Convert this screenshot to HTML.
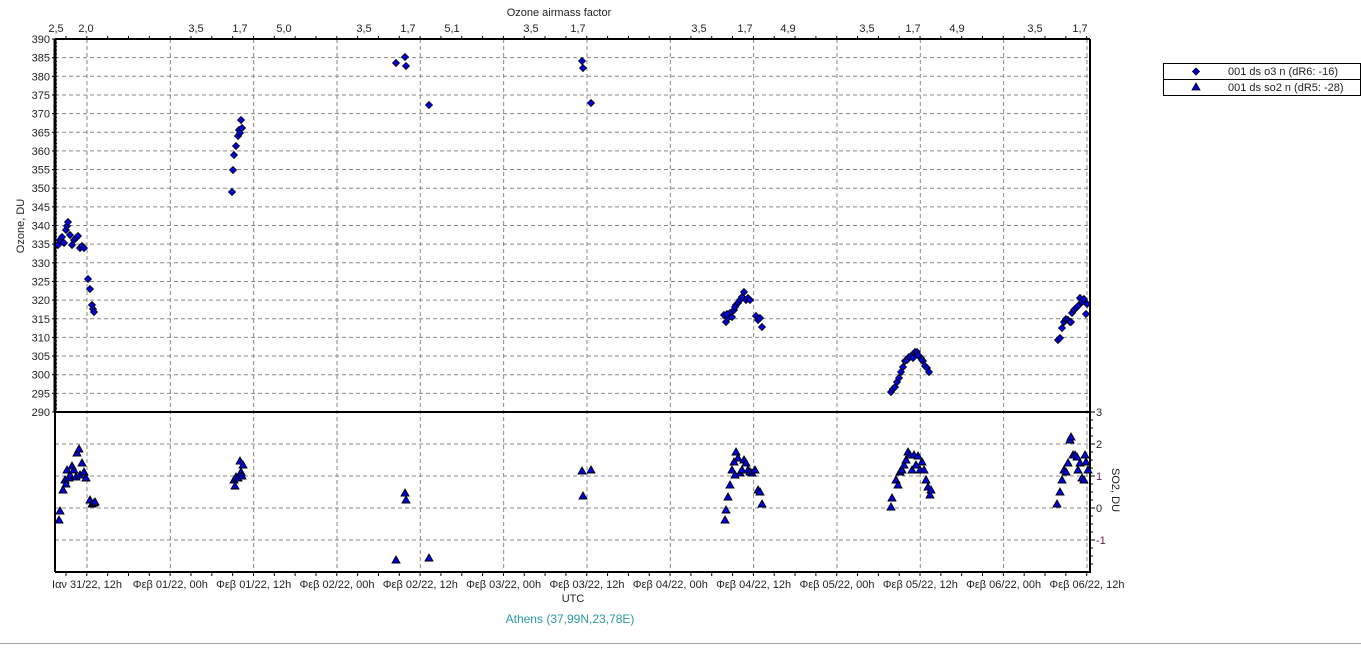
<!DOCTYPE html>
<html><head><meta charset="utf-8"><style>
body{margin:0;background:#fff;width:1361px;height:645px;overflow:hidden;font-family:"Liberation Sans",sans-serif}
svg text{font-family:"Liberation Sans",sans-serif;font-size:11px;fill:#222}
</style></head><body>
<svg id="s" width="1361" height="645" xmlns="http://www.w3.org/2000/svg">
<rect width="1361" height="645" fill="#fff"/>
<line x1="0" y1="643.5" x2="1361" y2="643.5" stroke="#a0a0a0"/>
<g id="grid" stroke="#888" stroke-dasharray="4,3" stroke-width="1"></g>
<g id="axes"></g>
<g id="pts"></g>
<text x="559" y="16" text-anchor="middle">Ozone airmass factor</text>
<text x="573" y="602" text-anchor="middle">UTC</text>
<text x="570" y="623" text-anchor="middle" style="fill:#2a9aa0;font-size:12px">Athens (37,99N,23,78E)</text>
<text transform="translate(24,226) rotate(-90)" text-anchor="middle">Ozone, DU</text>
<text transform="translate(1112,490) rotate(90)" text-anchor="middle">SO2, DU</text>
<rect x="1163.5" y="63.5" width="197" height="32" fill="#fff" stroke="#000"/>
<line x1="1163" y1="79.5" x2="1361" y2="79.5" stroke="#000"/>
<polygon points="1196,68 1199.5,71.5 1196,75 1192.5,71.5" fill="#0000e0" stroke="#000" stroke-width="0.8"/>
<polygon points="1196,83 1200,90 1192,90" fill="#0000e0" stroke="#000" stroke-width="0.8"/>
<text x="1228" y="75">001 ds o3  n (dR6: -16)</text>
<text x="1228" y="91">001 ds so2 n (dR5: -28)</text>
</svg>
<script>
(function(){
const NS="http://www.w3.org/2000/svg",G=id=>document.getElementById(id);
function el(p,t,a,txt){const e=document.createElementNS(NS,t);for(const k in a)e.setAttribute(k,a[k]);if(txt!==undefined)e.textContent=txt;G(p).appendChild(e);return e;}
const L=55,R=1090,T=39,M=412,B=572;
const labs=['Ιαν 31/22, 12h','Φεβ 01/22, 00h','Φεβ 01/22, 12h','Φεβ 02/22, 00h','Φεβ 02/22, 12h','Φεβ 03/22, 00h','Φεβ 03/22, 12h','Φεβ 04/22, 00h','Φεβ 04/22, 12h','Φεβ 05/22, 00h','Φεβ 05/22, 12h','Φεβ 06/22, 00h','Φεβ 06/22, 12h'];
for(let i=0;i<13;i++){const x=87+i*83.33;el('grid','line',{x1:x,y1:T,x2:x,y2:B});
 el('axes','text',{x:x,y:588,'text-anchor':'middle'},labs[i]);}
for(let x=66;x<R;x+=20.83){el('axes','line',{x1:x,y1:B,x2:x,y2:B+4,stroke:'#000'});el('axes','line',{x1:x,y1:T,x2:x,y2:T-3,stroke:'#000'});}
for(let v=385;v>290;v-=5){const y=T+(390-v)*3.73;el('grid','line',{x1:L,y1:y,x2:R,y2:y});}
for(let v=390;v>=290;v-=5){const y=T+(390-v)*3.73;el('axes','text',{x:50,y:y+4,'text-anchor':'end'},v);el('axes','line',{x1:L-3,y1:y,x2:L,y2:y,stroke:'#000'});}
for(let y=T;y<M;y+=3.73)el('axes','line',{x1:L,y1:y,x2:L+2,y2:y,stroke:'#000'});
for(const v of [2,1,0,-1]){const y=M+(3-v)*32;el('grid','line',{x1:L,y1:y,x2:R,y2:y});}
for(const v of [3,2,1,0,-1]){const y=M+(3-v)*32;el('axes','text',{x:1096,y:y+4,style:v==1||v==-1?'fill:#602050':'fill:#222'},v);el('axes','line',{x1:R,y1:y,x2:R+5,y2:y,stroke:'#000'});}
for(let y=M+8;y<B;y+=8)el('axes','line',{x1:R,y1:y,x2:R+3,y2:y,stroke:'#000'});
el('axes','line',{x1:L,y1:T,x2:R,y2:T,stroke:'#000','stroke-width':2});
el('axes','line',{x1:L,y1:T,x2:L,y2:M,stroke:'#000','stroke-width':3});
el('axes','line',{x1:L,y1:M,x2:L,y2:B,stroke:'#000','stroke-width':2});
el('axes','line',{x1:L,y1:M,x2:R,y2:M,stroke:'#000','stroke-width':2});
el('axes','line',{x1:L,y1:B,x2:R+1,y2:B,stroke:'#000','stroke-width':2});
el('axes','line',{x1:R,y1:T,x2:R,y2:B,stroke:'#000','stroke-width':2});
const topl=[[56,'2,5'],[86,'2,0'],[196,'3,5'],[240,'1,7'],[284,'5,0'],[364,'3,5'],[408,'1,7'],[452,'5,1'],[531,'3,5'],[578,'1,7'],[699,'3,5'],[745,'1,7'],[788,'4,9'],[867,'3,5'],[913,'1,7'],[957,'4,9'],[1035,'3,5'],[1080,'1,7']];
for(const [x,t] of topl)el('axes','text',{x:x,y:32,'text-anchor':'middle'},t);
const O=[[58,245],[60,240],[62,237],[64,243],[66,230],[67,226],[68,222],[70,235],[72,245],[74,240],[76,238],[78,236],[80,248],[82,246],[84,248],[88,279],[90,289],[92,305],[93,309],[94,312],
[232,192],[233,170],[234,155],[236,146],[238,136],[239,130],[240,133],[241,120],[242,128],
[396,63],[405,57],[406,66],[429,105],[582,61],[583,68],[591,103],
[724,315],[726,322],[728,318],[730,313],[732,317],[734,310],[736,305],[738,303],[740,300],[742,297],[744,292],[746,300],[748,298],[750,300],[756,316],[758,320],[760,318],[762,327],[727,314],[735,307],
[891,392],[893,389],[895,387],[897,382],[899,378],[901,372],[903,367],[905,361],[907,360],[909,357],[911,356],[913,358],[915,352],[917,352],[919,356],[921,358],[923,361],[925,366],[927,368],[929,372],[922,360],[918,355],
[1058,340],[1060,338],[1062,328],[1064,322],[1066,319],[1068,320],[1070,322],[1072,313],[1074,310],[1076,308],[1078,306],[1080,298],[1082,302],[1084,299],[1086,314],[1087,304],[1071,322]];
for(const [x,y] of O)el('pts','polygon',{points:`${x},${y-3.5} ${x+3.5},${y} ${x},${y+3.5} ${x-3.5},${y}`,fill:'#0000e0',stroke:'#000','stroke-width':0.8});
const S=[[59,520],[60,511],[63,490],[65,480],[66,484],[67,470],[69,478],[70,475],[72,466],[74,470],[76,477],[77,453],[79,449],[80,475],[82,463],[84,472],[86,478],[90,500],[92,504],[94,503],[95,502],
[234,480],[235,486],[236,477],[238,478],[240,461],[241,472],[243,465],[242,476],
[396,560],[405,493],[406,500],[429,558],[582,471],[583,496],[591,470],
[725,520],[726,510],[728,497],[730,485],[732,470],[734,462],[736,452],[738,458],[740,473],[742,470],[744,460],[746,463],[748,470],[750,472],[752,473],[755,470],[758,490],[760,492],[762,504],[735,475],
[891,507],[892,498],[896,480],[898,485],[900,472],[902,470],[904,465],[906,460],[908,452],[910,455],[912,470],[914,455],[916,465],[918,456],[920,470],[922,462],[924,470],[926,480],[928,487],[930,495],[931,490],
[1057,504],[1060,492],[1062,480],[1064,470],[1066,472],[1068,463],[1070,440],[1071,437],[1073,455],[1075,455],[1077,457],[1078,470],[1080,463],[1082,478],[1084,480],[1085,455],[1086,462],[1088,470]];
for(const [x,y] of S)el('pts','polygon',{points:`${x},${y-4} ${x+4},${y+3} ${x-4},${y+3}`,fill:'#0000e0',stroke:'#000','stroke-width':0.9});
})();
</script>
</body></html>
